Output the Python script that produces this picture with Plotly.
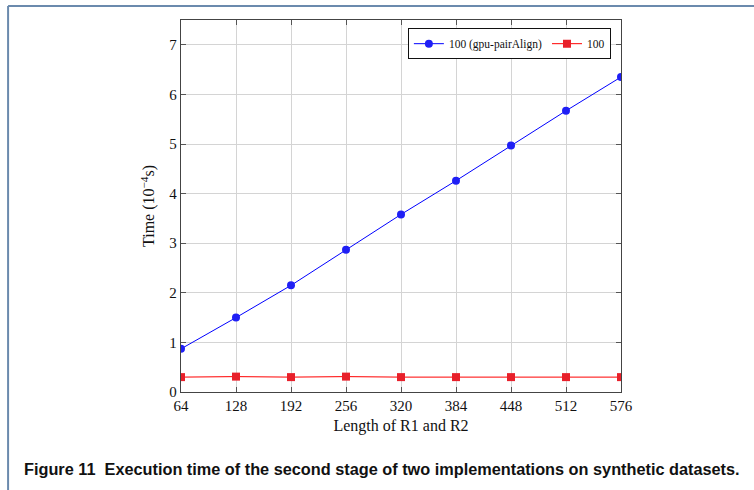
import plotly.graph_objects as go

# Sequence lengths (R1 and R2) and measured second-stage times (10^-4 s)
lengths = [64, 128, 192, 256, 320, 384, 448, 512, 576]
time_gpu_pairalign = [0.87, 1.50, 2.15, 2.87, 3.58, 4.26, 4.97, 5.67, 6.35]
time_other = [0.30, 0.31, 0.30, 0.31, 0.30, 0.30, 0.30, 0.30, 0.30]
series_names = ["100 (gpu-pairAlign)", "100"]
x_ticks = [64, 128, 192, 256, 320, 384, 448, 512, 576]
y_ticks = [0, 1, 2, 3, 4, 5, 6, 7]

caption = "Figure 11  Execution time of the second stage of two implementations on synthetic datasets."

serif = "Liberation Serif, Times New Roman, serif"
frame_color = "#6b8aad"

fig = go.Figure()
fig.add_trace(go.Scatter(
    x=lengths, y=time_gpu_pairalign, name=series_names[0],
    mode="lines+markers",
    line=dict(color="#0000ff", width=1),
    marker=dict(symbol="circle", size=8, color="#1f1ff5"),
))
fig.add_trace(go.Scatter(
    x=lengths, y=time_other, name=series_names[1],
    mode="lines+markers",
    line=dict(color="#ff0000", width=1),
    marker=dict(symbol="square", size=8, color="#e8202a"),
))

axis_common = dict(
    showline=True, linecolor="#444444", linewidth=1.3,
    mirror="ticks", ticks="inside", ticklen=5, tickcolor="#555555",
    showgrid=True, gridcolor="#d4d4d4", gridwidth=1,
    zeroline=False,
    tickfont=dict(family=serif, size=15, color="#111111"),
)

fig.update_xaxes(
    range=[64, 576], tickvals=x_ticks, ticktext=[str(v) for v in x_ticks],
    title=dict(text="Length of R1 and R2", font=dict(family=serif, size=16, color="#111111"), standoff=6),
    **axis_common,
)
fig.update_yaxes(
    range=[0, 7.5], tickvals=y_ticks,
    title=dict(text="Time (10<sup>−4</sup>s)", font=dict(family=serif, size=16, color="#111111"), standoff=10),
    **axis_common,
)

fig.update_layout(
    width=754, height=490,
    margin=dict(l=181, r=133, t=20, b=98),
    paper_bgcolor="white", plot_bgcolor="white",
    showlegend=True,
    legend=dict(
        orientation="h", x=0.977, y=0.978, xanchor="right", yanchor="top",
        bordercolor="#111111", borderwidth=1, bgcolor="white",
        font=dict(family=serif, size=11.5, color="#111111"),
        itemwidth=30, tracegroupgap=0,
    ),
    shapes=[
        dict(type="line", xref="paper", yref="paper",
             x0=-0.393, x1=1.31, y0=1.0376, y1=1.0376,
             line=dict(color=frame_color, width=2)),
        dict(type="line", xref="paper", yref="paper",
             x0=-0.393, x1=-0.393, y0=1.0376, y1=-0.27,
             line=dict(color=frame_color, width=2)),
    ],
    annotations=[
        dict(text="<b>" + caption + "</b>", xref="paper", yref="paper",
             x=-0.361, y=-0.207, xanchor="left", yanchor="middle",
             showarrow=False,
             font=dict(family="Liberation Sans, Arial, sans-serif", size=16.3, color="#111111")),
    ],
)

fig.write_html("out.html")
